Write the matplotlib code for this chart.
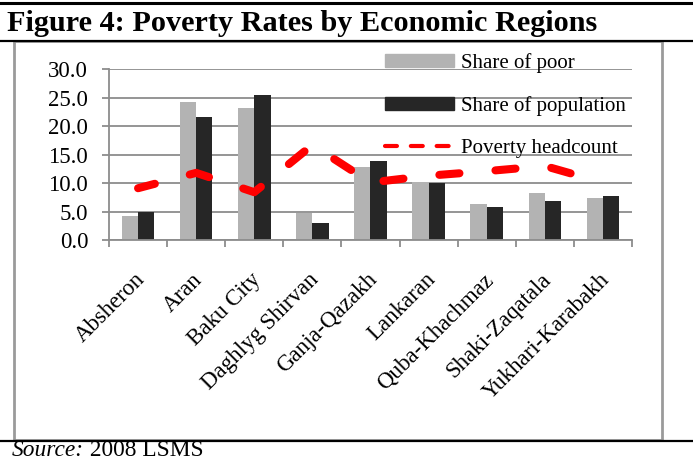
import numpy as np
import matplotlib
matplotlib.use("Agg")
import matplotlib.pyplot as plt
from matplotlib.lines import Line2D
from matplotlib.patches import Rectangle, Patch

# data
regions = ["Absheron", "Aran", "Baku City", "Daghlyg Shirvan", "Ganja-Qazakh",
           "Lankaran", "Quba-Khachmaz", "Shaki-Zaqatala", "Yukhari-Karabakh"]
share_poor = [4.2, 24.2, 23.2, 4.8, 12.8, 10.2, 6.4, 8.2, 7.4]
share_pop = [5.0, 21.6, 25.5, 3.0, 13.8, 10.0, 5.8, 6.8, 7.7]
headcount = [9.1, 11.8, 8.4, 16.7, 10.1, 11.3, 12.1, 13.0, 10.1]
y_ticks = [0, 5, 10, 15, 20, 25, 30]

plt.rcParams['font.family'] = ['Liberation Serif', 'DejaVu Serif']
plt.rcParams['lines.scale_dashes'] = False

W, H = 693, 468
fig = plt.figure(figsize=(W / 100, H / 100), dpi=100)

# frame and rules around the figure
fig.add_artist(Line2D([0, 1], [1 - 3 / H, 1 - 3 / H], color='black', lw=2.2))
fig.add_artist(Line2D([0, 1], [1 - 41 / H, 1 - 41 / H], color='black', lw=1.6))
fig.add_artist(Line2D([0, 1], [1 - 441 / H, 1 - 441 / H], color='black', lw=1.6))
fig.add_artist(Rectangle((14 / W, 1 - 440 / H), 648 / W, 399 / H, fill=False,
                         edgecolor='#9a9a9a', lw=2.0))

fig.text(7 / W, 1 - 31 / H, "Figure 4: Poverty Rates by Economic Regions",
         fontsize=21.8, fontweight='bold', va='baseline')
src = fig.text(12 / W, 1 - 456 / H, "Source:", fontsize=16.8, style='italic', va='baseline')
src2 = fig.text(0, 1 - 456 / H, " 2008 LSMS", fontsize=16.8, va='baseline')

ax = fig.add_axes([109 / W, 1 - 240 / H, 523 / W, 170.7 / H])
x = np.arange(len(regions))
w = 0.28
ax.bar(x - w / 2, share_poor, w, color='#b3b3b3', zorder=2)
ax.bar(x + w / 2, share_pop, w, color='#262626', zorder=2)
ax.plot(x, headcount, color='red', lw=5.8, linestyle=(2, (14.5, 26.0)),
        dash_capstyle='round', solid_capstyle='round', zorder=3)

ax.set_xlim(-0.5, len(regions) - 0.5)
ax.set_ylim(0, 30)
ax.set_yticks(y_ticks)
ax.set_yticklabels([f"{v:.1f}" for v in y_ticks], fontsize=16.5)
ax.yaxis.grid(True, color='#8c8c8c', lw=1.3)
ax.set_axisbelow(True)
ax.set_xticks(x)
ax.set_xticklabels(regions, rotation=45, ha='right', rotation_mode='anchor', fontsize=16.5)
ax.set_xticks(np.arange(len(regions) + 1) - 0.5, minor=True)
ax.tick_params(axis='x', which='major', length=0, pad=21)
ax.tick_params(axis='x', which='minor', length=5, color='#8c8c8c', width=1.3)
ax.tick_params(axis='y', length=5, color='#8c8c8c', width=1.3, pad=10)
for s in ['top', 'right']:
    ax.spines[s].set_visible(False)
for s in ['left', 'bottom']:
    ax.spines[s].set_color('#8c8c8c')
    ax.spines[s].set_linewidth(1.3)

# nudge the rotated labels a little to the left, as in the original
for lbl in ax.get_xticklabels():
    lbl.set_transform(lbl.get_transform() +
                      matplotlib.transforms.ScaledTranslation(-4 / 100, 0, fig.dpi_scale_trans))

handles = [Patch(color='#b3b3b3'), Patch(color='#262626'),
           Line2D([], [], color='red', lw=3.0, linestyle=(0, (8.6, 10.0)),
                  dash_capstyle='round')]
labels = ['Share of poor', 'Share of population', 'Poverty headcount']
fig.legend(handles, labels, loc='upper left', bbox_to_anchor=(385 / W, 1 - 53 / H),
           frameon=False, fontsize=15, borderpad=0, borderaxespad=0,
           handlelength=3.3, handleheight=0.55, handletextpad=0.35, labelspacing=1.1)

fig.canvas.draw()
bb = src.get_window_extent()
src2.set_position((bb.x1 / W, 1 - 456 / H))

fig.savefig("out.png", dpi=100)
